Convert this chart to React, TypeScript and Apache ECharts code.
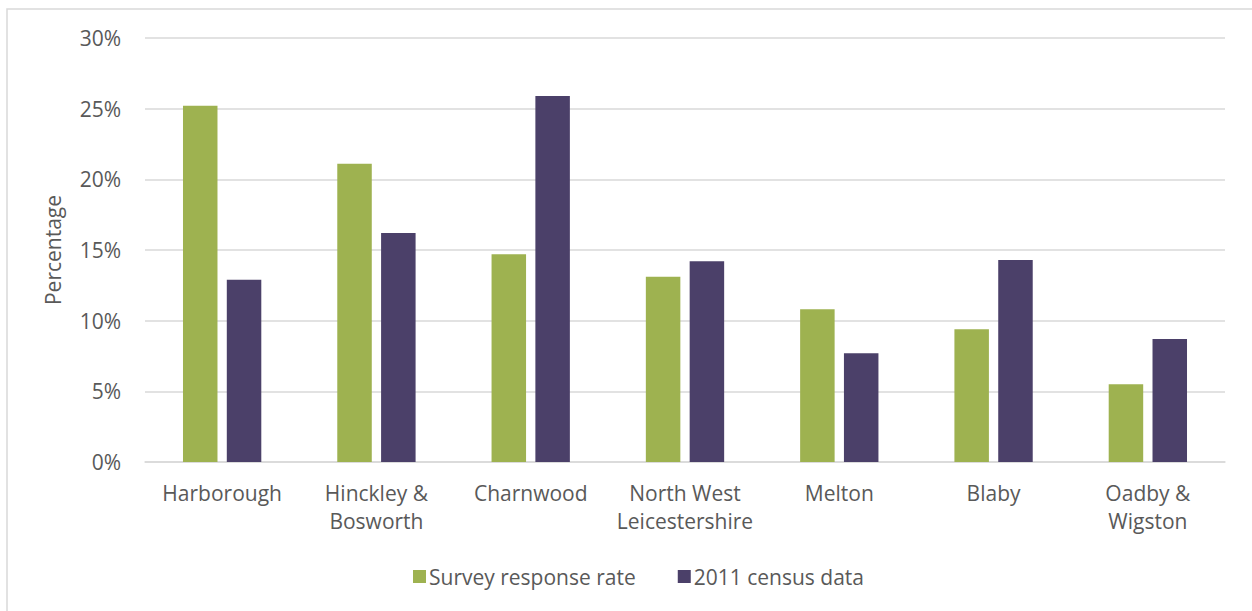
import React, { useEffect, useRef } from "react";
import * as echarts from "echarts";

const categories = [
  "Harborough",
  "Hinckley &\nBosworth",
  "Charnwood",
  "North West\nLeicestershire",
  "Melton",
  "Blaby",
  "Oadby &\nWigston",
];
const surveyResponse = [25.2, 21.1, 14.7, 13.1, 10.8, 9.4, 5.5];
const census2011 = [12.9, 16.2, 25.9, 14.2, 7.7, 14.3, 8.7];
const seriesNames = ["Survey response rate", "2011 census data"];
const yAxisTitle = "Percentage";

const FONT = "'Open Sans', sans-serif";
const TEXT = "#595959";
const FS = 21;

export default function App() {
  const ref = useRef<HTMLDivElement>(null);
  useEffect(() => {
    if (!ref.current) return;
    const chart = echarts.init(ref.current, undefined, { renderer: "svg" });
    chart.setOption({
      animation: false,
      backgroundColor: "#ffffff",
      textStyle: { fontFamily: FONT, color: TEXT },
      graphic: [
        {
          type: "rect",
          shape: { x: 7, y: 9, width: 1300, height: 700 },
          style: { fill: "none", stroke: "#d9d9d9", lineWidth: 1.5 },
          silent: true,
        },
      ],
      grid: { left: 145, right: 27, top: 38, bottom: 149 },
      legend: {
        data: seriesNames,
        left: 408,
        top: 561,
        itemWidth: 13,
        itemHeight: 13,
        itemGap: 42,
        icon: "rect",
        textStyle: { fontFamily: FONT, fontSize: FS, color: TEXT, padding: [0, 0, 0, -2] },
      },
      xAxis: {
        type: "category",
        data: categories,
        axisLine: { lineStyle: { color: "#d9d9d9", width: 1.5 } },
        axisTick: { show: false },
        axisLabel: {
          fontFamily: FONT,
          fontSize: FS,
          color: TEXT,
          lineHeight: 28,
          margin: 17,
          interval: 0,
        },
      },
      yAxis: {
        type: "value",
        min: 0,
        max: 30,
        interval: 5,
        name: yAxisTitle,
        nameLocation: "middle",
        nameGap: 82,
        nameTextStyle: { fontFamily: FONT, fontSize: FS, color: TEXT },
        axisLine: { show: false },
        axisTick: { show: false },
        splitLine: { lineStyle: { color: "#d9d9d9", width: 1.5 } },
        axisLabel: {
          fontFamily: FONT,
          fontSize: FS,
          color: TEXT,
          margin: 24,
          formatter: (v: number) => `${v}%`,
        },
      },
      series: [
        {
          name: seriesNames[0],
          type: "bar",
          data: surveyResponse,
          barWidth: 34.5,
          barGap: "27%",
          itemStyle: { color: "#9eb250" },
        },
        {
          name: seriesNames[1],
          type: "bar",
          data: census2011,
          barWidth: 34.5,
          barGap: "27%",
          itemStyle: { color: "#4b4069" },
        },
      ],
    });
    return () => chart.dispose();
  }, []);
  return (
    <div
      ref={ref}
      style={{ position: "fixed", left: 0, top: 0, width: 1252, height: 611 }}
    />
  );
}
